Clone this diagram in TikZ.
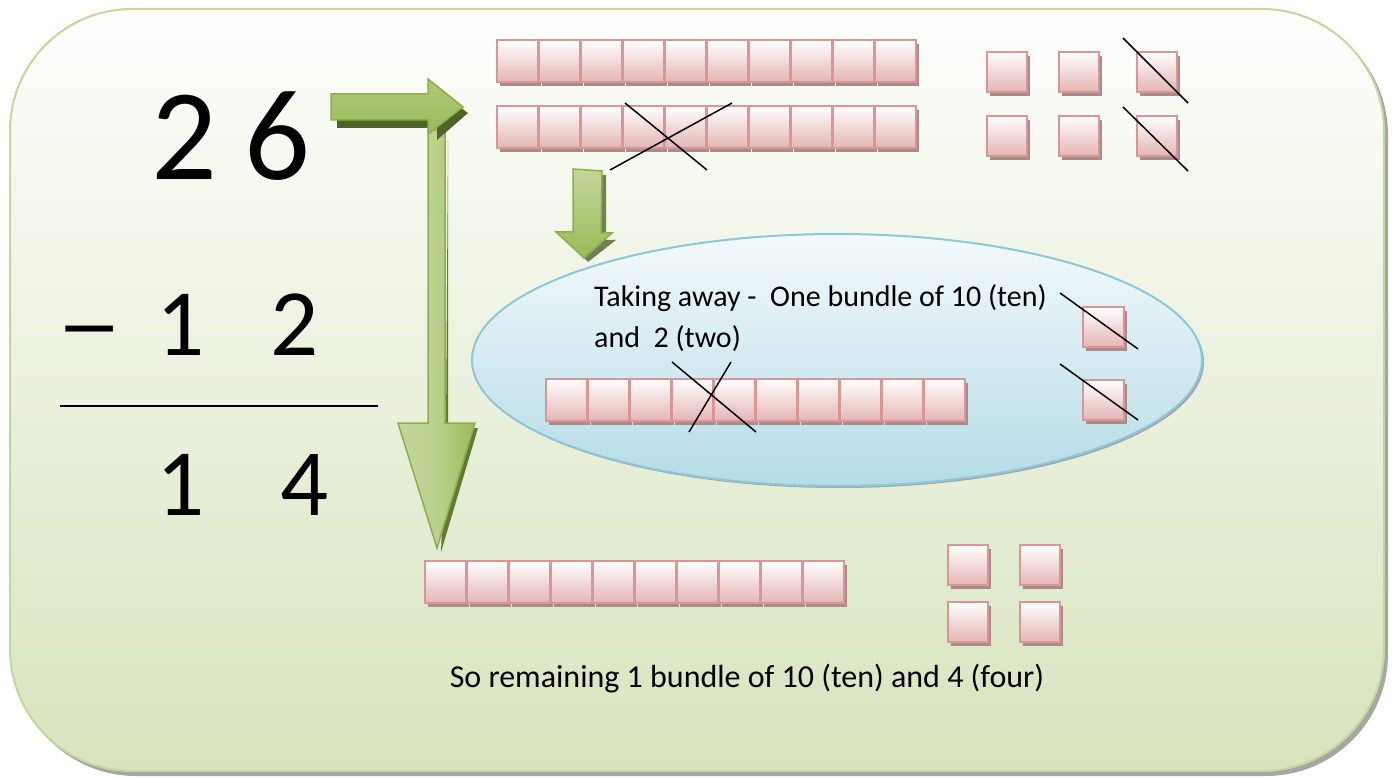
\documentclass[tikz,border=0pt]{standalone}
\usepackage{fontspec}
\setmainfont{Carlito}
\definecolor{bgtop}{HTML}{FEFEFD}
\definecolor{bgbot}{HTML}{D7E4BD}
\definecolor{bgedge}{HTML}{C3D69B}
\definecolor{shadowgray}{HTML}{A6A6A6}
\definecolor{elltop}{HTML}{F4F9FB}
\definecolor{ellbot}{HTML}{B4DCE7}
\definecolor{elledge}{HTML}{8CC8DA}
\definecolor{cubeedge}{HTML}{D99694}
\definecolor{cubefill}{HTML}{E4B5B4}
\definecolor{cubeshade}{HTML}{A88C8C}
\definecolor{arrowgreen}{HTML}{9BBB59}
\definecolor{arrowlight}{HTML}{C3D69B}
\definecolor{arrowedge}{HTML}{8DAF4B}
\definecolor{arrowdark}{HTML}{4F6228}
\tikzset{
  cube/.style={draw=cubeedge, line width=2.2, top color=white, bottom color=cubefill},
  cubeshadow/.style={fill=cubeshade},
  cross/.style={draw=black, line width=1.5},
  bignum/.style={font=\fontsize{130}{130}\selectfont, anchor=base, inner sep=0},
  midnum/.style={font=\fontsize{95}{95}\selectfont, anchor=base, inner sep=0},
  label/.style={font=\fontsize{30}{34}\selectfont, anchor=base west, inner sep=0},
  biglabel/.style={font=\fontsize{32}{36}\selectfont, anchor=base, inner sep=0},
}
% one unit cube: left x, top y, width, height
\newcommand{\unitsq}[4]{%
  \fill[cubeshadow] (#1+3,#2+4) rectangle (#1+#3+3,#2+#4+4);
  \path[cube] (#1,#2) rectangle (#1+#3,#2+#4);
}
% a rod of ten cubes
\newcommand{\rodrow}[2]{%
  \foreach \k in {0,...,9}{\unitsq{#1+42*\k}{#2}{41}{42}}%
}
\begin{document}
\begin{tikzpicture}[x=1pt,y=-1pt]
\useasboundingbox (0,0) rectangle (1393,778);

% background panel
\fill[shadowgray, rounded corners=122] (14,13) rectangle (1388,776);
\path[draw=bgedge, line width=2, top color=bgtop, bottom color=bgbot, rounded corners=122]
  (10,9) rectangle (1384,771);

% the sum
\node[bignum] (t2) at (184,180) {2};
\node[bignum] (t6) at (277,180) {6};
\node[midnum] (minus) at (90,355) {\scalebox{1.4}[1]{–}};
\node[midnum] (s1) at (181,355) {1};
\node[midnum] (s2) at (295,355) {2};
\coordinate (rulel) at (60,406);
\coordinate (ruler) at (378,406);
\draw[line width=1.3] (rulel) -- (ruler);
\node[midnum] (r1) at (181,515) {1};
\node[midnum] (r4) at (305,515) {4};

% vertical arrow down to the result
\fill[arrowedge!70!black] (448,140) -- (448,428) -- (478,428) -- (441,552) -- (446,430) -- cycle;
\path[draw=arrowedge, line width=1.5, left color=arrowlight, right color=arrowgreen, middle color=arrowlight!80!arrowgreen]
  (428,130) -- (445,130) -- (445,423) -- (475,423) -- (437,548) -- (398,423) -- (428,423) -- cycle;

% horizontal arrow from 26 to the rods
\fill[arrowdark] (337,113) -- (433,113) -- (433,87) -- (468,113) -- (437,140) -- (437,128) -- (337,128) -- cycle;
\path[draw=arrowedge, line width=1.5, top color=arrowgreen!80!white, bottom color=arrowgreen]
  (331,94) -- (428,94) -- (428,79) -- (463,107) -- (428,134) -- (428,120) -- (331,120) -- cycle;

% small arrow into the oval
\fill[arrowdark!80] (602,175) -- (606,175) -- (606,240) -- (616,240) -- (588,262) -- (584,258) -- cycle;
\path[draw=arrowedge, line width=1.5, top color=arrowlight, bottom color=arrowgreen]
  (573,169) -- (602,171) -- (601,233) -- (612,233) -- (584,258) -- (556,232) -- (573,232) -- cycle;

% two rods of ten and six ones
\rodrow{497}{40}
\rodrow{497}{106}
\draw[cross] (625,103) -- (707,170);
\draw[cross] (610,170) -- (732,103);
\foreach \cx in {987,1059,1137}{
  \unitsq{\cx}{52}{40}{40}
  \unitsq{\cx}{116}{40}{40}
}
\draw[cross] (1123,38) -- (1188,103);
\draw[cross] (1123,107) -- (1188,171);

% the oval with what is taken away
\fill[shadowgray] (839,362) ellipse (365 and 126);
\path[draw=elledge, line width=2, top color=elltop, bottom color=ellbot]
  (837,360) ellipse (365 and 126);
\node[label] (take1) at (594,306) {Taking away -\ \ One bundle of 10 (ten)};
\node[label] (take2) at (594,347) {and\ \ 2 (two)};
\rodrow{546}{379}
\draw[cross] (672,362) -- (756,432);
\draw[cross] (689,432) -- (731,362);
\unitsq{1083}{307}{41}{40}
\unitsq{1083}{380}{41}{40}
\draw[cross] (1060,293) -- (1138,349);
\draw[cross] (1060,364) -- (1138,420);

% what remains
\rodrow{425}{561}
\foreach \cx in {948,1020}{
  \unitsq{\cx}{545}{40}{40}
  \unitsq{\cx}{602}{40}{40}
}
\node[biglabel] (rest) at (747,687) {So remaining 1 bundle of 10 (ten) and 4 (four)};
\end{tikzpicture}
\end{document}
